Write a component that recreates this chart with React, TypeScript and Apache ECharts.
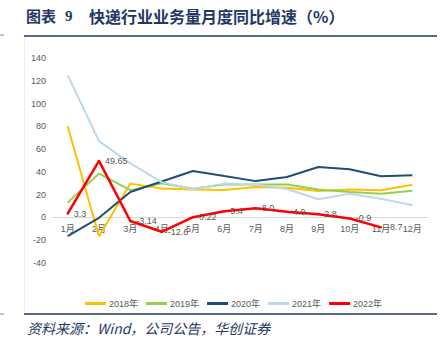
import React, { useEffect, useRef } from "react";
import * as echarts from "echarts";

const months = ["1月", "2月", "3月", "4月", "5月", "6月", "7月", "8月", "9月", "10月", "11月", "12月"];
const s2018 = [80, -16.5, 29.7, 25.5, 24.6, 24.0, 26.7, 26.0, 23.3, 24.5, 23.8, 28.8];
const s2019 = [13, 38.5, 24, 30, 25.2, 29, 29, 29, 24.5, 22.3, 20.9, 23.5];
const s2020 = [-16.5, -0.3, 22.3, 31.5, 40.8, 36.3, 31.9, 35.5, 44.3, 42.3, 36.1, 37];
const s2021 = [125, 67, 47.5, 31, 24.7, 29.7, 29, 25, 16, 20.9, 16.5, 10.7];
const s2022 = [3.3, 49.65, -3.14, -12.6, 0.22, 5.4, 8.0, 4.9, 2.8, -0.9, -8.7];
const s2022Labels = ["3.3", "49.65", "-3.14", "-12.6", "0.22", "5.4", "8.0", "4.9", "2.8", "-0.9", "-8.7"];
const seriesNames = ["2018年", "2019年", "2020年", "2021年", "2022年"];
const seriesColors = ["#FFC000", "#92D050", "#1F4E79", "#BDD7EE", "#FF0000"];
const yTicks = { min: -40, max: 140, interval: 20 };

const title1 = "图表";
const title2 = "9";
const title3 = "快递行业业务量月度同比增速（%）";
const sourceText = "资料来源：Wind，公司公告，华创证券";

const GRID_TOP = 58;
const GRID_BOTTOM = 91;
const CHART_H = 354;

export default function App() {
  const ref = useRef<HTMLDivElement>(null);
  useEffect(() => {
    if (!ref.current) return;
    const chart = echarts.init(ref.current, undefined, { renderer: "svg" });
    const data = [s2018, s2019, s2020, s2021, s2022];
    const font = "'Liberation Sans', Arial, 'Noto Sans CJK SC', sans-serif";
    const gridH = CHART_H - GRID_TOP - GRID_BOTTOM;
    const zeroOffset = -((0 - yTicks.min) / (yTicks.max - yTicks.min)) * gridH;
    chart.setOption({
      animation: false,
      backgroundColor: "#ffffff",
      grid: { left: 52, right: 18, top: GRID_TOP, bottom: GRID_BOTTOM, containLabel: false },
      xAxis: {
        type: "category",
        data: months,
        boundaryGap: true,
        position: "bottom",
        offset: zeroOffset,
        axisLine: { show: true, onZero: false, lineStyle: { color: "#D9D9D9", width: 1 } },
        axisTick: { show: false },
        axisLabel: { fontSize: 9, color: "#595959", margin: 7, fontFamily: font, interval: 0 },
        splitLine: { show: false },
      },
      yAxis: {
        type: "value",
        min: yTicks.min,
        max: yTicks.max,
        interval: yTicks.interval,
        axisLine: { show: false },
        axisTick: { show: false },
        splitLine: { show: false },
        axisLabel: { fontSize: 9, color: "#595959", margin: 6, fontFamily: font },
      },
      legend: {
        data: seriesNames,
        left: 80,
        top: 294,
        icon: "rect",
        itemWidth: 21,
        itemHeight: 3,
        itemGap: 8,
        textStyle: { fontSize: 9, color: "#595959", fontFamily: font, padding: [0, 0, 0, -2] },
      },
      series: data.map((d, i) => ({
        name: seriesNames[i],
        type: "line",
        data: d,
        symbol: i === 4 ? "circle" : "none",
        symbolSize: i === 4 ? 2 : 0,
        showSymbol: i === 4,
        smooth: false,
        z: 2 + i,
        lineStyle: { color: seriesColors[i], width: i === 4 ? 2.5 : 2 },
        itemStyle: { color: seriesColors[i] },
        label:
          i === 4
            ? {
                show: true,
                position: "right",
                distance: 5,
                fontSize: 9,
                color: "#595959",
                fontFamily: font,
                formatter: (p: any) => s2022Labels[p.dataIndex],
              }
            : { show: false },
      })),
      graphic: [
        {
          type: "text",
          left: 26,
          top: 8,
          style: { text: title1, font: "bold 15px 'Noto Sans CJK SC', serif", fill: "#1F3864" },
        },
        {
          type: "text",
          left: 65,
          top: 8,
          style: { text: title2, font: "bold 15px 'Liberation Serif', serif", fill: "#1F3864" },
        },
        {
          type: "text",
          left: 89,
          top: 8,
          style: { text: title3, font: "bold 16px 'Noto Sans CJK SC', serif", fill: "#1F3864" },
        },
        {
          type: "line",
          shape: { x1: 24, y1: 36, x2: 437, y2: 36 },
          style: { stroke: "#1F3864", lineWidth: 1.5 },
        },
        {
          type: "line",
          shape: { x1: 24, y1: 314, x2: 437, y2: 314 },
          style: { stroke: "#1F3864", lineWidth: 1.5 },
        },
        {
          type: "line",
          shape: { x1: 24.5, y1: 38, x2: 24.5, y2: 313 },
          style: { stroke: "#EEEEEE", lineWidth: 1 },
        },
        {
          type: "line",
          shape: { x1: 0, y1: 35, x2: 4, y2: 35 },
          style: { stroke: "#888888", lineWidth: 1 },
        },
        {
          type: "line",
          shape: { x1: 0, y1: 314, x2: 4, y2: 314 },
          style: { stroke: "#888888", lineWidth: 1 },
        },
        {
          type: "text",
          left: 27,
          top: 321,
          style: { text: sourceText, font: "italic 14px 'Noto Sans CJK SC', serif", fill: "#1F3864" },
        },
      ],
    });
    return () => chart.dispose();
  }, []);
  return (
    <div
      ref={ref}
      style={{ position: "fixed", left: 0, top: 0, width: 446, height: 354 }}
    />
  );
}
